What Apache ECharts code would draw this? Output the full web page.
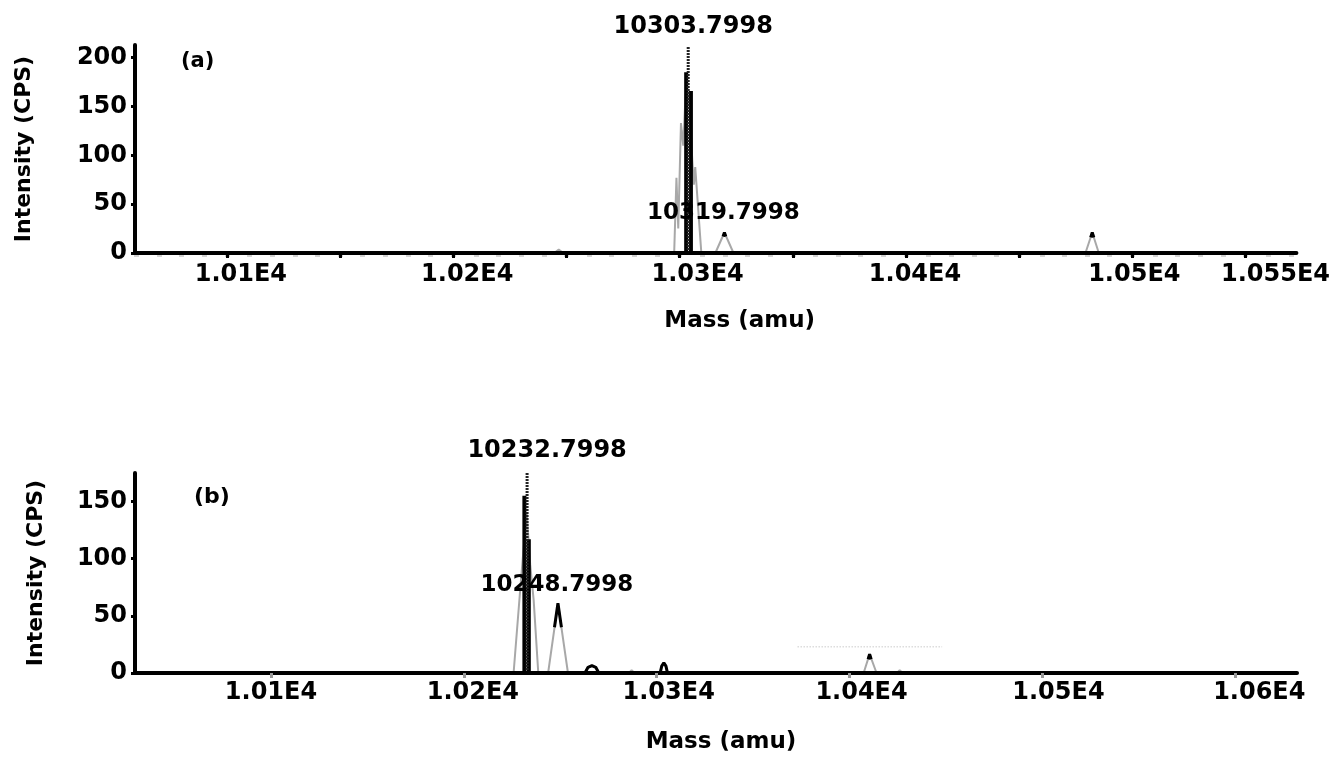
<!DOCTYPE html>
<html><head><meta charset="utf-8">
<script src="https://cdn.jsdelivr.net/npm/echarts@6/dist/echarts.min.js"></script>
<style>html,body{margin:0;padding:0;background:#fff}#c{width:1333px;height:758px}</style>
</head><body><div id="c"></div>
<script>
// ================= DATA =================
// Panel (a)
const xRangeA = [10059.4, 10572.5];
const yMaxA = 213;
const yTicksA = [0, 50, 100, 150, 200];
const xMajorTicksA = [10100, 10150, 10200, 10250, 10300, 10350, 10400, 10450, 10500, 10550];
const xLabelsA = [10100, 10200, 10300, 10400, 10500, 10550];
const profileA = [
  [10059.4, 0], [10244.6, 0], [10246.6, 3.5], [10248.6, 0],
  [10297.6, 0], [10298.6, 77], [10299.4, 25], [10300.6, 133], [10301.6, 110],
  [10302.9, 175], [10304.4, 150], [10305.6, 95], [10306.3, 70], [10306.9, 88], [10309.6, 0],
  [10315.8, 0], [10319.8, 21], [10323.8, 0],
  [10479.3, 0], [10482.3, 21], [10485.2, 0], [10572.5, 0]
];
const sticksA = [[10302.9, 185], [10305.0, 166]];
const blackTipsA = [
  [[10319.2, 17], [10319.8, 21], [10320.4, 17]],
  [[10481.6, 16], [10482.3, 21], [10483.0, 16]]
];
const apexA = [[10303.7998, 211]];
const peakLabelsA = [[10303.7998, 211], [10319.7998, 21]];

// Panel (b)
const xRangeB = [10029.5, 10632];
const yMaxB = 175;
const yTicksB = [0, 50, 100, 150];
const xMajorTicksB = [10100, 10200, 10300, 10400, 10500, 10600];
const xLabelsB = [10100, 10200, 10300, 10400, 10500, 10600];
const profileB = [
  [10029.5, 0], [10225.8, 0], [10229.0, 68], [10230.8, 105], [10232.6, 140],
  [10234.4, 95], [10236.2, 64], [10238.6, 0],
  [10243.7, 0], [10248.8, 61], [10254.0, 0],
  [10262.6, 0], [10264.4, 5], [10266.4, 6.5], [10268.4, 5], [10270.2, 0],
  [10285.5, 0], [10287.0, 2.5], [10288.5, 0],
  [10301.6, 0], [10302.6, 6], [10303.7, 9], [10304.8, 6], [10305.8, 0],
  [10407.3, 0], [10410.4, 16.5], [10414.0, 0],
  [10424.5, 0], [10426.0, 2.5], [10427.5, 0], [10632, 0]
];
const sticksB = [[10231.4, 155], [10233.7, 117]];
const blackTipsB = [
  [[10262.8, 0], [10264.4, 5], [10266.4, 6.5], [10268.4, 5], [10270.0, 0]],
  [[10301.8, 0], [10302.6, 6], [10303.7, 9], [10304.8, 6], [10305.6, 0]],
  [[10247.0, 40], [10248.8, 61], [10250.6, 40]],
  [[10409.6, 12], [10410.4, 16.5], [10411.2, 12]]
];
const apexB = [[10232.7998, 175]];
const peakLabelsB = [[10232.7998, 175], [10248.7998, 61]];
const faintLineB = [[10373, 23], [10448, 23]];

// ================= STYLE =================
const FONT = 'DejaVu Sans';
const labelShiftA = {10100: 14, 10200: 14, 10300: 18, 10400: 9, 10500: 2, 10550: 30};
const labelShiftB = {10100: 0, 10200: 9, 10300: 12, 10400: 12, 10500: 16, 10600: 24};
const peakLabelOffsetA = [[5, 0, 8, 24], [-1, 0, 8, 23]];
const peakLabelOffsetB = [[20, 0, 10, 24], [-1, 0, 7, 23]];
const grids = [
  {left: 135, top: 45, width: 1162, height: 208},
  {left: 135, top: 473, width: 1162, height: 200}
];

function fmtE4(v) { return parseFloat((v / 1e4).toFixed(4)) + 'E4'; }
function minorTicks(r) { const a = []; for (let v = Math.ceil(r[0] / 10) * 10; v <= r[1]; v += 10) a.push(v); return a; }
function segs(list) { const out = []; list.forEach(s => { s.forEach(p => out.push(p)); out.push([s[s.length - 1][0], '-']); }); return out; }
function stickData(list) { const out = []; list.forEach(s => { out.push([s[0], 0], [s[0], s[1]], [s[0], '-']); }); return out; }

function xAxisMain(gi, range, ticks, labels, shifts, tickColor) {
  const rich = {};
  labels.forEach(v => { rich['s' + v] = {padding: [0, 0, 0, 2 * shifts[v]], fontFamily: FONT, fontWeight: 'bold', fontSize: 24, color: '#000'}; });
  return {
    type: 'value', gridIndex: gi, min: range[0], max: range[1], position: 'bottom', z: 10,
    name: 'Mass (amu)', nameLocation: 'middle', nameGap: gi === 0 ? 57 : 58,
    nameTextStyle: {fontFamily: FONT, fontWeight: 'bold', fontSize: 23, color: '#000', padding: gi === 0 ? [0, 0, 0, 48] : [0, 0, 0, 10]},
    axisLine: {show: true, onZero: false, lineStyle: {color: '#000', width: 4}},
    axisTick: {show: true, customValues: ticks, length: 5, lineStyle: {color: tickColor, width: 3}},
    axisLabel: {show: true, customValues: labels, margin: gi === 0 ? 10 : 8, formatter: v => '{s' + v + '|' + fmtE4(v) + '}', rich: rich},
    splitLine: {show: false}
  };
}
function xAxisMinor(gi, range) {
  return {
    type: 'value', gridIndex: gi, min: range[0], max: range[1], position: 'bottom', z: 9,
    axisLine: {show: false}, axisLabel: {show: false}, splitLine: {show: false},
    axisTick: {show: true, customValues: minorTicks(range), length: 4, lineStyle: {color: '#d4d4d4', width: 5}}
  };
}
function yAxisMain(gi, max, ticks, gap) {
  return {
    type: 'value', gridIndex: gi, min: 0, max: max, z: 10,
    name: 'Intensity (CPS)', nameLocation: 'middle', nameGap: gap, nameRotate: 90,
    nameTextStyle: {fontFamily: FONT, fontWeight: 'bold', fontSize: 22, color: '#000'},
    axisLine: {show: true, lineStyle: {color: '#000', width: 4}},
    axisTick: {show: true, customValues: ticks, length: 4, lineStyle: {color: '#000', width: 3}},
    axisLabel: {show: true, customValues: ticks, margin: 8, fontFamily: FONT, fontWeight: 'bold', fontSize: 24, color: '#000'},
    splitLine: {show: false}
  };
}
function panelSeries(xi, yi, profile, sticks, tips, apex, labels, labelOffs) {
  return [
    {type: 'line', xAxisIndex: xi, yAxisIndex: yi, data: profile, symbol: 'none', z: 2,
     lineStyle: {color: '#a8a8a8', width: 2}, silent: true, animation: false},
    {type: 'line', xAxisIndex: xi, yAxisIndex: yi, data: stickData(sticks), symbol: 'none', z: 3, connectNulls: false,
     lineStyle: {color: '#000', width: 4, cap: 'butt'}, silent: true, animation: false},
    {type: 'line', xAxisIndex: xi, yAxisIndex: yi, data: segs(tips), symbol: 'none', z: 3, connectNulls: false,
     lineStyle: {color: '#000', width: 3}, silent: true, animation: false},
    {type: 'line', xAxisIndex: xi, yAxisIndex: yi, data: stickData(apex), symbol: 'none', z: 4, connectNulls: false,
     lineStyle: {color: '#222', width: 3, type: [2, 1], cap: 'butt'}, silent: true, animation: false},
    {type: 'scatter', xAxisIndex: xi, yAxisIndex: yi, symbolSize: 0, z: 6, silent: true, animation: false,
     itemStyle: {color: '#000'},
     label: {show: true, color: '#000', opacity: 1, textBorderWidth: 0, fontFamily: FONT, fontWeight: 'bold'},
     data: labels.map((p, i) => ({value: p, label: {show: true, position: 'top', distance: labelOffs[i][2],
       offset: [labelOffs[i][0], labelOffs[i][1]], fontSize: labelOffs[i][3],
       formatter: q => q.value[0].toFixed(4), fontFamily: FONT, fontWeight: 'bold', color: '#000',
       opacity: 1, textBorderWidth: 0}}))}
  ];
}

const chart = echarts.init(document.getElementById('c'), null, {renderer: 'canvas'});
const series = [].concat(
  panelSeries(0, 0, profileA, sticksA, blackTipsA, apexA, peakLabelsA, peakLabelOffsetA),
  panelSeries(2, 1, profileB, sticksB, blackTipsB, apexB, peakLabelsB, peakLabelOffsetB),
  [{type: 'line', xAxisIndex: 2, yAxisIndex: 1, data: faintLineB, symbol: 'none', z: 1, silent: true, animation: false,
    lineStyle: {color: '#dddddd', width: 1.5, type: 'dotted'}}]
);
chart.setOption({
  animation: false,
  backgroundColor: '#fff',
  textStyle: {color: '#000'},
  grid: grids,
  xAxis: [
    xAxisMain(0, xRangeA, xMajorTicksA, xLabelsA, labelShiftA, '#000'),
    xAxisMinor(0, xRangeA),
    xAxisMain(1, xRangeB, xMajorTicksB, xLabelsB, labelShiftB, '#9a9a9a')
  ],
  yAxis: [
    yAxisMain(0, yMaxA, yTicksA, 100),
    yAxisMain(1, yMaxB, yTicksB, 88)
  ],
  graphic: [
    {type: 'text', left: 181, top: 51, style: {text: '(a)', font: 'bold 21px "DejaVu Sans"', fill: '#000'}},
    {type: 'text', left: 194, top: 486, style: {text: '(b)', font: 'bold 22px "DejaVu Sans"', fill: '#000'}}
  ],
  series: series
});
</script>
</body></html>
